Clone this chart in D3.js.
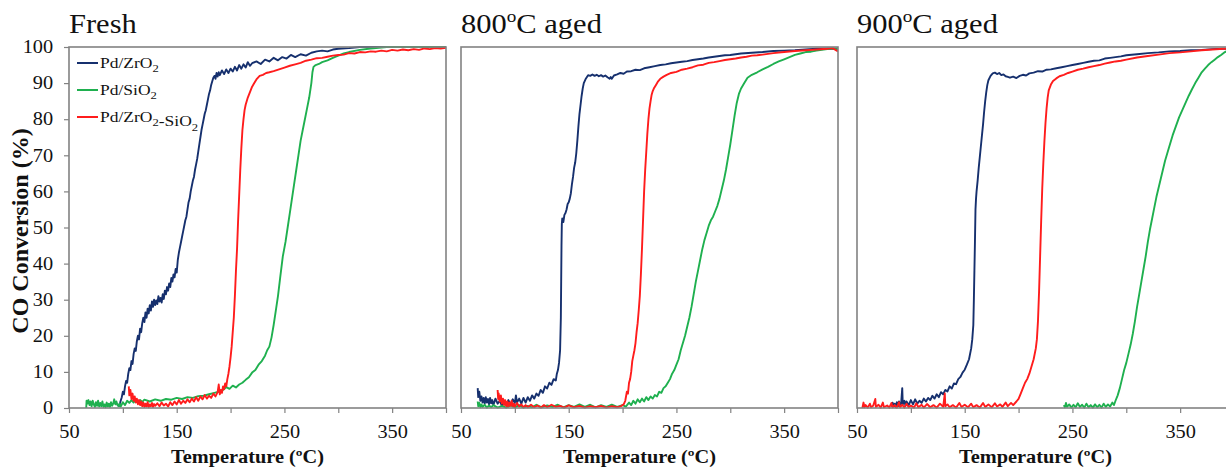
<!DOCTYPE html>
<html>
<head>
<meta charset="utf-8">
<script src="https://cdn.jsdelivr.net/npm/d3@7"></script>
<style>
  body { margin: 0; background: #fff; }
  text { font-family: "Liberation Serif", "Times New Roman", serif; fill: #111; }
</style>
</head>
<body>
<svg id="chart" width="1226" height="471"></svg>
<script>

// ---- data: [temperature (C), CO conversion (%)] ----

var seriesNames = ["Pd/ZrO2", "Pd/SiO2", "Pd/ZrO2-SiO2"];
var seriesColors = ["#16306e", "#1fb04f", "#ff1c1c"];
var panelTitles = [["Fresh", "", ""], ["800", "o", "C aged"], ["900", "o", "C aged"]];
var xTicks = [50, 100, 150, 200, 250, 300, 350, 400];
var xTickLabels = [50, 150, 250, 350];
var yTicks = [0, 10, 20, 30, 40, 50, 60, 70, 80, 90, 100];

// fresh
var freshZr = [[96,0.3],[97.5,1.5],[99,3],[100,4.5],[101,3.8],[102,6],[103,7.5],[104,7],[105,9.5],[106,11],[107,10.5],[108,13],[109,12.2],[110,15],[111,16.5],[112,15.8],[113,18.5],[114,20],[115,19],[116,22],[117,21],[118,23.5],[119,25],[120,23.8],[121,26.5],[122,25],[123,27.5],[124,26.2],[125,28.5],[126,27],[127,29.5],[128,28],[129,30],[130,28.5],[131,29.8],[132,28.8],[133,31],[134,29.5],[135,30.5],[136,29.2],[137,31.5],[138,30.2],[139,32.5],[140,31.5],[141,33.5],[142,32.5],[143,34.5],[144,33.5],[145,36],[146,35],[147,37],[148,36.2],[149,38.5],[150,37.5],[151,41],[152,43],[153,44.5],[154,46],[155,47.5],[156,49],[157,50.5],[158,52],[159,53],[160,55],[161,57],[162,58],[163,60],[164,61.5],[165,63],[166,64],[167,66],[168,67.5],[169,69],[170,71],[171,73],[172,75],[173,77],[174,78.5],[175,80],[176,81.5],[177,82.5],[178,84],[179,85.5],[180,87],[181,88],[182,89.5],[183,90.5],[184,91.5],[185,92],[186,91.2],[187,92.8],[188,91.8],[189,93],[190,92.2],[192,93.5],[194,92.5],[196,93.8],[198,92.8],[200,94],[202,93.2],[204,94.5],[206,93.5],[208,95],[210,94],[212,95.2],[214,94.3],[216,95.8],[218,94.8],[220,95.5],[224,96],[228,95.3],[232,96.5],[236,96],[240,97],[244,96.3],[248,97.2],[252,96.8],[256,97.8],[260,97.2],[265,98],[270,97.6],[275,98.4],[280,98.8],[285,99],[290,98.8],[295,99.3],[300,99.5],[310,99.7],[320,100],[340,100],[370,100],[400,100]];
var freshSi = [[66,0],[66.3,2],[67,1.2],[68,2.2],[69,0.8],[70,1.8],[71,0.5],[72,2],[73,1],[74,0.3],[75,1.6],[76,0.6],[77,2],[78,0.4],[79,1.4],[80,0.5],[81,1.8],[82,0.3],[83,1],[84,0.2],[85,1.5],[86,0.4],[87,1.2],[88,0.3],[89,1.6],[90,0.6],[91,1.2],[92,2.4],[93,1],[94,1.8],[95,0.8],[96,0.5],[97,1.2],[98,0.4],[100,1.6],[102,0.8],[104,2],[106,1.4],[108,2.2],[110,1.5],[112,2.4],[114,1.6],[116,2.2],[118,1.7],[120,2.3],[125,1.8],[130,2.4],[135,2],[140,2.5],[145,2.3],[150,2.8],[155,2.5],[160,3],[165,2.8],[170,3.3],[175,3.4],[180,3.8],[185,4.2],[190,4.6],[193,5],[196,5.8],[199,5.3],[202,6.2],[205,5.7],[208,6.5],[211,7],[214,7.8],[217,8.5],[220,9.8],[223,10.5],[226,12],[229,13],[232,14.5],[234,16],[236,17],[238,19.5],[240,23],[242,27],[244,31],[246,36],[248.5,42],[251,46],[253,50],[255,54],[257,58],[259,62],[261,66],[263,70],[265,74],[267,77],[269,80],[271,83],[273,86],[275,90],[276,93],[277,94.5],[279,95],[282,95.3],[285,95.8],[290,96.3],[295,97],[300,97.6],[305,98.2],[310,98.6],[320,99.2],[330,99.6],[345,100],[370,100],[400,100]];
var freshZrSi = [[105.5,6],[106,3.5],[107,5],[108,2.5],[109,4],[110,2],[111,3.2],[112,1.5],[113,2.6],[114,1],[115,2.2],[116,0.8],[117,1.8],[118,0.5],[119,1.5],[120,0.3],[121,1.2],[122,0.4],[123,1.6],[124,0.2],[125,1],[126,0.5],[127,1.4],[128,0.3],[129,1.1],[130,0.6],[132,1.3],[134,0.5],[136,1.5],[138,0.7],[140,1.2],[142,0.4],[144,1.6],[146,0.8],[148,1.8],[150,1],[152,2.2],[154,1.2],[156,2],[158,1.4],[160,2.4],[162,1.6],[164,2.6],[166,1.8],[168,3],[170,2],[172,3.2],[174,2.4],[176,3.6],[178,2.6],[180,3.4],[182,2.8],[184,4],[186,3.2],[188,4.4],[189,6.5],[190,3.8],[191,5],[192,4.2],[193,6],[194,5.2],[195,6.8],[196,6],[197,8],[198,9.5],[199,11.5],[200,14],[201,17],[202,21],[203,25],[204,31],[205,38],[206,44],[207,52],[208,59],[209,66],[210,72],[211,77],[212,80],[213,82.5],[214,84],[216,86],[218,87.5],[220,89],[222,90],[224,91],[227,92],[230,92.3],[233,92.8],[236,93],[240,93.3],[245,93.8],[250,94.3],[255,94.8],[260,95.2],[265,95.6],[270,96.2],[275,96.5],[280,96.9],[285,97],[290,97.3],[295,97.6],[300,97.8],[305,97.9],[310,98.3],[315,98.2],[320,98.6],[325,98.5],[330,98.8],[335,98.7],[340,99],[345,98.8],[350,99.2],[355,99],[360,99.3],[365,99.1],[370,99.4],[375,99.2],[380,99.6],[385,99.4],[390,99.7],[395,99.6],[400,99.8]];

// 800 C aged
var aged800Zr = [[65.5,5.5],[66,3],[67,4.5],[68,2],[69,3.2],[70,1.5],[71,2.8],[72,1.2],[73,3],[74,1.5],[75,2.5],[76,1],[77,2.8],[78,1.3],[79,2.2],[80,0.8],[82,2.6],[84,1.2],[86,2],[88,0.6],[90,1.8],[92,0.8],[94,2.2],[96,1],[98,2.4],[100,1.4],[101,3.5],[102,1.5],[104,2.6],[106,1.2],[108,2.8],[110,1.5],[112,3],[114,2],[116,3.5],[118,2.6],[120,4],[122,3.4],[124,5],[126,4.2],[128,6],[130,5.4],[132,7],[134,6.4],[136,8],[138,7.6],[139,9.5],[140,10.5],[141,12.5],[142,16],[142.7,25],[143,35],[143.3,45],[143.6,51],[144,52.5],[145,51.5],[146,53.5],[147,54],[148,55],[149,56.5],[150,57],[151,58],[152,59.5],[153,62],[154,64],[155,66.5],[156,68],[157,70.5],[158,74],[159,78],[160,81.5],[161,84],[162,86.5],[163,88.5],[164,90],[166,91.3],[168,92.2],[170,92],[172,92.4],[174,92],[176,92.3],[178,91.9],[180,92.2],[182,91.8],[184,92.1],[186,91.6],[188,91.2],[189,91.7],[190,91.2],[192,92.1],[195,92.4],[198,92.8],[201,92.6],[204,93.2],[208,93.3],[212,93.7],[216,93.6],[220,94.1],[225,94.4],[230,94.7],[235,95],[240,95.2],[245,95.5],[250,95.7],[255,95.9],[260,96.1],[265,96.4],[270,96.6],[275,96.8],[280,97.1],[285,97.3],[290,97.5],[295,97.7],[300,97.8],[310,98.2],[320,98.4],[330,98.6],[340,98.9],[350,99],[360,99.1],[370,99.3],[380,99.5],[390,99.6],[400,99.5]];
var aged800Si = [[65.5,1.8],[66,0.5],[67,1.4],[68,0.2],[69,1],[70,0.3],[72,0.9],[74,0.1],[76,0.7],[78,0.2],[80,0.8],[84,0.1],[88,0.6],[92,0.1],[96,0.7],[100,0.2],[104,0.8],[108,0.1],[112,0.6],[116,0.2],[120,0.9],[125,0.2],[130,0.7],[135,0.3],[140,0.9],[145,0.2],[150,0.8],[155,0.3],[160,1],[165,0.3],[170,0.9],[175,0.2],[180,0.8],[185,0.3],[190,0.9],[195,0.3],[200,0.8],[203,0.4],[206,1.5],[208,0.8],[210,2],[212,1.2],[214,2.4],[216,1.6],[218,2.6],[220,1.8],[222,3],[224,2.2],[226,3.2],[228,2.6],[230,3.6],[232,3.2],[234,4.5],[236,4.2],[238,5.5],[240,6],[242,7],[244,8],[246,9.5],[248,10.5],[250,12],[252,13.5],[254,16],[256,18],[258,20],[260,22.5],[262,25],[264,28],[266,31.5],[268,35],[270,38],[272,41],[274,44],[276,46.5],[278,48.5],[280,50.5],[282,52],[284,53],[286,54.5],[288,56],[290,58],[292,60.5],[294,63],[296,66],[298,69.5],[300,73],[302,77],[304,81],[306,84.5],[308,87],[310,88.5],[313,90],[316,91.5],[320,92.3],[325,93],[330,93.8],[335,94.5],[340,95.3],[345,96],[350,96.6],[355,97.2],[360,97.8],[365,98.2],[370,98.6],[375,98.7],[380,99],[385,99.2],[390,99.4],[400,99.6]];
var aged800ZrSi = [[84,5],[84.5,2.5],[85,4],[86,1.8],[87,3.5],[88,1.2],[89,2.6],[90,0.8],[91,2.2],[92,0.5],[93,1.8],[94,0.4],[95,1.5],[96,0.6],[97,2],[98,0.5],[99,1.2],[100,0.3],[102,1.4],[104,0.4],[106,1],[108,0.2],[110,0.8],[112,0.2],[115,0.9],[118,0.2],[121,0.7],[124,0.1],[127,0.8],[130,0.2],[134,0.9],[138,0.3],[142,0.6],[146,0.1],[150,0.7],[155,0.2],[160,0.6],[165,0.1],[170,0.5],[175,0.2],[180,0.6],[185,0.1],[190,0.5],[195,0.2],[199,0.6],[201,1],[202.5,2],[204,4.5],[205,4],[206,7],[207,8],[208,10],[209,13],[210,14.5],[211,16],[212,18],[213,21],[214,23.5],[215,27],[216,31],[217,37],[218,44],[219,52],[220,60],[221,66],[222,71],[223,76],[224,80],[225,83],[226,85],[227,86.8],[228,87.8],[229,88.5],[231,89.5],[233,90.5],[235,91.2],[238,91.8],[241,92.3],[245,92.8],[250,93.1],[255,93.7],[260,94],[265,94.4],[270,94.9],[275,95.1],[280,95.6],[285,95.8],[290,96.1],[295,96.4],[300,96.6],[305,96.8],[310,97.1],[315,97.3],[320,97.6],[325,97.7],[330,97.9],[340,98.3],[350,98.6],[360,98.9],[370,99.1],[380,99.3],[390,99.5],[395,99.7],[400,98.8]];

// 900 C aged
var aged900Zr = [[82.5,0.3],[83,1.5],[84,0.4],[85,1.2],[86,0.2],[87,1.6],[88,0.5],[89,1.8],[90,0.6],[91,1.4],[92,5.5],[92.5,1],[94,2],[95,0.6],[96,1.8],[98,0.8],[100,2.2],[102,1],[104,2.4],[106,1.2],[108,2],[110,1.4],[112,2.6],[114,1.8],[116,2.8],[118,2.2],[120,3.4],[122,2.6],[124,3.8],[126,3],[128,4.4],[130,3.8],[132,5],[134,4.6],[136,6],[138,5.4],[140,6.8],[142,6.6],[144,8],[146,8.6],[148,9.8],[150,10.6],[152,12],[154,13.5],[156,16.5],[157,19],[158,23],[158.5,30],[159,38],[159.5,46],[160,55],[160.5,58],[161,60],[162,63],[163,66.5],[164,69.5],[165,72.5],[166,75.5],[167,78.5],[168,82],[169,85],[170,87.5],[171,89.5],[172,90.8],[174,92],[176,92.7],[178,92.9],[180,92.5],[182,92.8],[184,92.2],[186,92.4],[188,91.9],[190,91.7],[192,91.5],[195,91.8],[198,91.4],[201,92],[204,92.3],[207,92.1],[210,92.7],[214,92.9],[218,93.3],[222,93.2],[226,93.7],[230,93.8],[235,94.1],[240,94.4],[245,94.7],[250,95],[255,95.3],[260,95.6],[265,95.9],[270,96.2],[275,96.3],[280,96.8],[285,97],[290,97.2],[295,97.4],[300,97.7],[310,98],[320,98.3],[330,98.5],[340,98.8],[350,98.9],[360,99.1],[370,99.2],[380,99.4],[390,99.5],[400,99.6]];
var aged900Si = [[242,0.8],[243,0.2],[244,1.4],[245,0.3],[247,1],[249,0.1],[251,0.9],[253,0.2],[255,1.3],[257,0.3],[259,0.9],[261,0.1],[263,1.2],[265,0.2],[267,0.8],[269,0.1],[271,1],[273,0.2],[275,0.9],[277,0.1],[279,1.2],[281,0.3],[283,1],[285,0.4],[287,1.5],[288.5,0.8],[290,2],[292,3.5],[294,5.5],[296,8],[298,10.5],[300,12.5],[302,15],[304,17.5],[306,20.5],[308,24],[310,28],[312,31.5],[314,35],[316,38.5],[318,42],[320,46],[322,49.5],[324,52.5],[326,55.5],[328,58.5],[330,61],[332,63.5],[334,66],[336,68.5],[338,70.5],[340,72.5],[343,75.5],[346,78],[349,80.5],[352,82.5],[355,84.5],[358,86.5],[361,88.3],[364,90],[367,91.5],[370,93],[373,94],[376,95],[379,95.8],[382,96.5],[385,97.2],[388,97.8],[391,98.5],[394,98.9],[397,99.3],[400,99.6]];
var aged900ZrSi = [[55,0],[56,1.5],[57,0.2],[58,0.8],[60,0.1],[62,1.2],[63,0.2],[65,0.6],[67,2.5],[67.5,0.3],[70,0.9],[72,0.1],[74,1.5],[75,0.2],[78,0.7],[80,0.1],[82,1.4],[83,0.2],[85,0.8],[87,0.1],[89,1.6],[90,0.2],[92,0.9],[94,0.1],[96,1.2],[98,0.2],[100,0.7],[103,0.1],[105,1.3],[107,0.2],[110,0.9],[112,0.1],[115,1.1],[118,0.2],[121,0.8],[124,0.1],[127,1.2],[130,0.3],[131.5,4],[132,0.5],[134,1],[136,0.2],[139,0.8],[142,0.1],[145,1.4],[147,0.3],[150,0.9],[153,0.2],[156,1.2],[158,0.2],[161,0.8],[164,0.1],[167,1.4],[169,0.3],[172,1],[175,0.2],[178,1.3],[180,0.4],[183,1],[185,0.3],[188,1.5],[190,0.5],[193,1.4],[195,0.8],[198,1.8],[200,2.5],[202,4],[204,5.5],[206,7],[208,8],[210,9.5],[212,11.5],[214,13.5],[216,16.5],[217,19],[218,24],[219,32],[220,42],[221,52],[222,61],[223,68],[224,74],[225,79],[226,83],[227,86],[228,88],[230,89.6],[232,90.6],[235,91.3],[238,91.9],[242,92.3],[246,92.8],[250,93.2],[255,93.7],[260,94],[265,94.4],[270,94.7],[275,95],[280,95.4],[285,95.7],[290,96],[295,96.2],[300,96.5],[310,97.1],[320,97.5],[330,97.9],[340,98.3],[350,98.5],[360,98.8],[370,99.1],[380,99.3],[390,99.5],[400,99.6]];

var panelSeries = [
  [freshZr, freshSi, freshZrSi],
  [aged800Zr, aged800Si, aged800ZrSi],
  [aged900Zr, aged900Si, aged900ZrSi]
];

// ---- layout ----
var panelLeft = [69, 461, 857],
    panelTop = 47,
    pw = 377,
    ph = 361,
    stretch = 1.13,      // the original figure is a little wider than it is tall
    gridGray = "#828282";

var svg = d3.select("#chart");

var x = d3.scaleLinear().domain([50, 400]).range([0, pw]);
var y = d3.scaleLinear().domain([0, 100]).range([ph, 0]);

var line = d3.line()
    .x(function(d) { return x(d[0]); })
    .y(function(d) { return y(d[1]); });

// writes "Pd/ZrO2" style names with the digits dropped to subscript
function chemText(sel, name, size) {
  name.split(/(\d)/).forEach(function(part, i) {
    if (!part) return;
    var isSub = i % 2 == 1;
    sel.append("tspan")
      .attr("font-size", isSub ? size * 0.72 : size)
      .attr("dy", isSub ? size * 0.28 : 0)
      .text(part);
    if (isSub) sel.append("tspan").attr("dy", -size * 0.28).text("");
  });
}

svg.append("defs").append("clipPath").attr("id", "plot-clip")
  .append("rect").attr("x", 0).attr("y", -3).attr("width", pw).attr("height", ph + 4);

panelSeries.forEach(function(series, p) {

  var g = svg.append("g")
      .attr("transform", "translate(" + panelLeft[p] + "," + panelTop + ")");

  // title
  var t = panelTitles[p];
  var title = g.append("text")
      .attr("transform", "translate(0,-14) scale(" + stretch + ",1)")
      .attr("font-size", 27);
  title.append("tspan").text(t[0]);
  if (t[1]) {
    title.append("tspan").attr("font-size", 17).attr("dy", -11).text(t[1]);
    title.append("tspan").attr("dy", 11).text(t[2]);
  }

  // x axis
  var xa = g.append("g")
      .attr("transform", "translate(0," + ph + ")")
      .call(d3.axisBottom(x).tickValues(xTicks).tickSize(5).tickPadding(12)
        .tickFormat(function(d) { return xTickLabels.indexOf(d) >= 0 ? d : ""; }));
  xa.attr("font-family", null).attr("font-size", null);
  xa.select(".domain").remove();
  xa.selectAll(".tick line").attr("stroke", gridGray).attr("stroke-width", 1.2);
  xa.selectAll(".tick text")
    .attr("font-size", 18)
    .attr("fill", "#111")
    .attr("transform", "scale(" + stretch + ",1)");

  // y axis only on the first panel
  if (p == 0) {
    var ya = g.append("g")
        .call(d3.axisLeft(y).tickValues(yTicks).tickSize(5).tickPadding(9));
    ya.attr("font-family", null).attr("font-size", null);
    ya.select(".domain").remove();
    ya.selectAll(".tick line").attr("stroke", gridGray).attr("stroke-width", 1.2);
    ya.selectAll(".tick text")
      .attr("font-size", 18)
      .attr("fill", "#111")
      .attr("transform", "scale(" + stretch + ",1)");
  }

  g.append("text")
    .attr("transform", "translate(" + (pw / 2 - 10) + "," + (ph + 55) + ") scale(" + stretch + ",1)")
    .attr("text-anchor", "middle")
    .attr("font-size", 18)
    .attr("font-weight", "bold")
    .text("Temperature (ºC)");

  // curves
  var plot = g.append("g").attr("clip-path", "url(#plot-clip)");
  series.forEach(function(data, s) {
    plot.append("path")
      .datum(data)
      .attr("fill", "none")
      .attr("stroke", seriesColors[s])
      .attr("stroke-width", 1.9)
      .attr("stroke-linejoin", "round")
      .attr("d", line);
  });

  // frame
  g.append("rect")
    .attr("width", pw)
    .attr("height", ph)
    .attr("fill", "none")
    .attr("stroke", gridGray)
    .attr("stroke-width", 1.6);

  // legend in the fresh panel
  if (p == 0) {
    seriesNames.forEach(function(name, s) {
      var ly = 16 + s * 27;
      g.append("line")
        .attr("x1", 8).attr("x2", 29)
        .attr("y1", ly).attr("y2", ly)
        .attr("stroke", seriesColors[s])
        .attr("stroke-width", 2);
      var lt = g.append("text")
        .attr("transform", "translate(31," + (ly + 5) + ") scale(" + stretch + ",1)")
        .attr("font-size", 15.5);
      chemText(lt, name, 15.5);
    });
  }
});

// shared y title
svg.append("text")
  .attr("transform", "translate(28,231) rotate(-90)")
  .attr("text-anchor", "middle")
  .attr("font-size", 24)
  .attr("font-weight", "bold")
  .text("CO Conversion (%)");

</script>
</body>
</html>
